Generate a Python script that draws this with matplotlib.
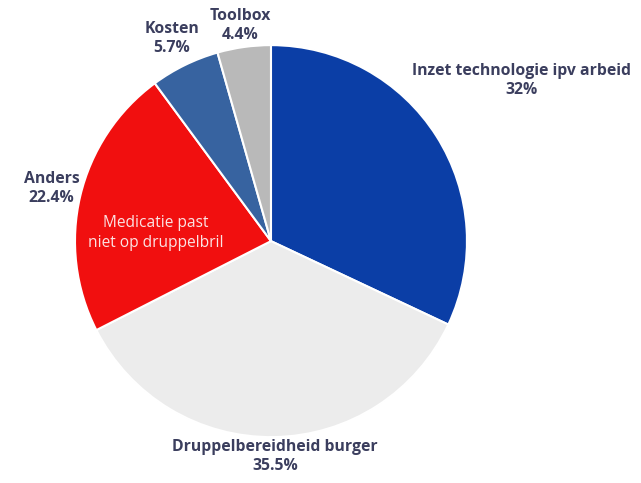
import matplotlib.pyplot as plt

# slices, clockwise from the top
labels = ["Inzet technologie ipv arbeid", "Druppelbereidheid burger", "Anders", "Kosten", "Toolbox"]
values = [32.0, 35.5, 22.4, 5.7, 4.4]
colors = ["#0b3ea6", "#ececec", "#f10f0f", "#3763a0", "#b9b9b9"]

# label positions in data units (pie radius = 1)
label_pos = [(1.28, 0.82), (0.02, -1.10), (-1.12, 0.27), (-0.505, 1.035), (-0.158, 1.10)]

fig = plt.figure(figsize=(6.41, 4.83), dpi=100)
ax = fig.add_axes([0.117, 0.095, 0.6115, 0.8116])

ax.pie(values, colors=colors, startangle=90, counterclock=False, radius=1,
       wedgeprops=dict(edgecolor="white", linewidth=1.5))
ax.set_xlim(-1, 1)
ax.set_ylim(-1, 1)
ax.set_aspect("equal")
ax.axis("off")

for lab, val, (x, y) in zip(labels, values, label_pos):
    ax.text(x, y, f"{lab}\n{val:g}%", ha="center", va="center", fontsize=11.3,
            fontweight="bold", color="#3b3e5e", family="Open Sans",
            linespacing=1.25, clip_on=False)

# note inside the red slice
ax.text(-0.587, 0.04, "Medicatie past\nniet op druppelbril", ha="center", va="center",
        fontsize=11.2, color="#fbe3e3", family="Open Sans", linespacing=1.3)

fig.savefig("out.png", dpi=100)
